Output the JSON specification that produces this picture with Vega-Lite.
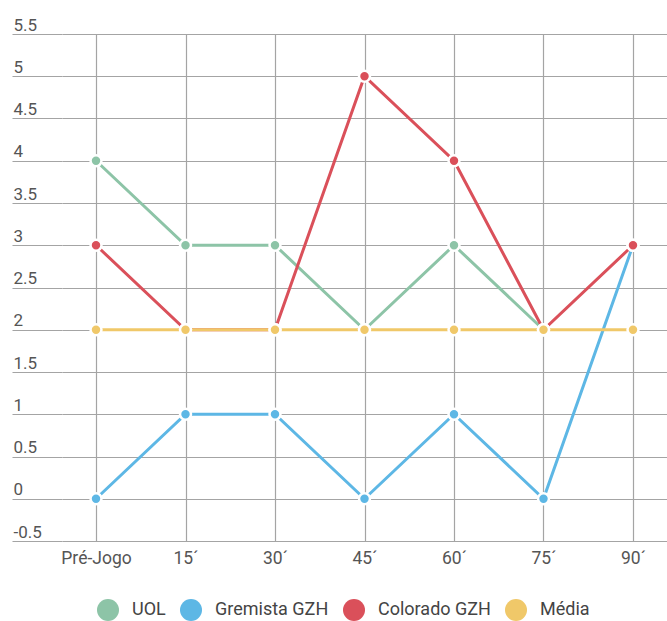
{
  "$schema": "https://vega.github.io/schema/vega-lite/v6.json",
  "width": 605,
  "height": 507,
  "autosize": {"type": "none"},
  "padding": {"left": 62, "top": 34, "right": 0, "bottom": 80},
  "background": "white",
  "config": {
    "view": {"stroke": null},
    "font": "Roboto",
    "axis": {"gridColor": "#a4a4a4", "gridWidth": 1.2, "gridOpacity": 1}
  },
  "data": {
    "values": [
      {"t": "Pré-Jogo", "s": "UOL", "v": 4},
      {"t": "15´", "s": "UOL", "v": 3},
      {"t": "30´", "s": "UOL", "v": 3},
      {"t": "45´", "s": "UOL", "v": 2},
      {"t": "60´", "s": "UOL", "v": 3},
      {"t": "75´", "s": "UOL", "v": 2},
      {"t": "Pré-Jogo", "s": "Gremista GZH", "v": 0},
      {"t": "15´", "s": "Gremista GZH", "v": 1},
      {"t": "30´", "s": "Gremista GZH", "v": 1},
      {"t": "45´", "s": "Gremista GZH", "v": 0},
      {"t": "60´", "s": "Gremista GZH", "v": 1},
      {"t": "75´", "s": "Gremista GZH", "v": 0},
      {"t": "90´", "s": "Gremista GZH", "v": 3},
      {"t": "Pré-Jogo", "s": "Colorado GZH", "v": 3},
      {"t": "15´", "s": "Colorado GZH", "v": 2},
      {"t": "30´", "s": "Colorado GZH", "v": 2},
      {"t": "45´", "s": "Colorado GZH", "v": 5},
      {"t": "60´", "s": "Colorado GZH", "v": 4},
      {"t": "75´", "s": "Colorado GZH", "v": 2},
      {"t": "90´", "s": "Colorado GZH", "v": 3},
      {"t": "Pré-Jogo", "s": "Média", "v": 2},
      {"t": "15´", "s": "Média", "v": 2},
      {"t": "30´", "s": "Média", "v": 2},
      {"t": "45´", "s": "Média", "v": 2},
      {"t": "60´", "s": "Média", "v": 2},
      {"t": "75´", "s": "Média", "v": 2},
      {"t": "90´", "s": "Média", "v": 2}
    ]
  },
  "encoding": {
    "x": {
      "field": "t",
      "type": "ordinal",
      "sort": ["Pré-Jogo", "15´", "30´", "45´", "60´", "75´", "90´"],
      "scale": {"type": "point", "padding": 0.38},
      "axis": {
        "title": null,
        "domain": false,
        "ticks": false,
        "grid": true,
        "labelAngle": 0,
        "labelFontSize": 17.5,
        "labelColor": "#555555",
        "labelPadding": 8
      }
    },
    "y": {
      "field": "v",
      "type": "quantitative",
      "scale": {"domain": [-0.5, 5.5], "nice": false, "zero": false},
      "axis": {
        "title": null,
        "values": [-0.5, 0, 0.5, 1, 1.5, 2, 2.5, 3, 3.5, 4, 4.5, 5, 5.5],
        "labelExpr": "'' + datum.value",
        "domain": false,
        "ticks": true,
        "tickSize": 50,
        "tickColor": "#a4a4a4",
        "tickWidth": 1.2,
        "grid": true,
        "labelAlign": "left",
        "labelBaseline": "alphabetic",
        "labelOffset": -4,
        "labelPadding": -1,
        "labelFontSize": 17,
        "labelColor": "#555555"
      }
    },
    "color": {
      "field": "s",
      "type": "nominal",
      "sort": ["UOL", "Gremista GZH", "Colorado GZH", "Média"],
      "scale": {
        "domain": ["UOL", "Gremista GZH", "Colorado GZH", "Média"],
        "range": ["#8dc4a7", "#5db7e5", "#da505a", "#f0c869"]
      },
      "legend": {
        "title": null,
        "orient": "none",
        "direction": "horizontal",
        "legendX": 35,
        "legendY": 565,
        "symbolType": "circle",
        "symbolSize": 484,
        "symbolStrokeWidth": 0,
        "symbolOpacity": 1,
        "labelFontSize": 18,
        "labelColor": "#444444",
        "labelOffset": 13,
        "columnPadding": 14
      }
    }
  },
  "layer": [
    {"mark": {"type": "line", "strokeWidth": 3}},
    {"mark": {"type": "point", "filled": true, "size": 120, "opacity": 1, "stroke": "white", "strokeWidth": 2.5}}
  ]
}
